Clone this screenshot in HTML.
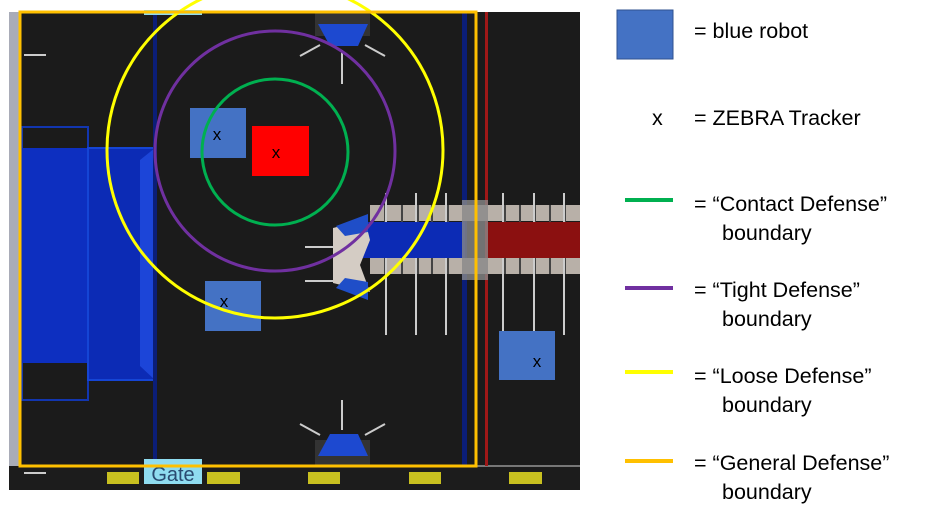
<!DOCTYPE html>
<html><head><meta charset="utf-8"><style>
html,body{margin:0;padding:0;background:#fff;width:929px;height:512px;overflow:hidden}
svg{display:block}
text{font-family:"Liberation Sans",sans-serif}
</style></head><body>
<svg width="929" height="512" viewBox="0 0 929 512">
<rect x="9" y="12" width="571" height="478" fill="#1b1b1b"/>
<rect x="9" y="12" width="12" height="478" fill="#a9acb8"/>
<rect x="9" y="466" width="571" height="24" fill="#1c1c1c"/>
<line x1="476" y1="466" x2="580" y2="466" stroke="#777" stroke-width="2"/>
<rect x="22" y="127" width="66" height="273" fill="none" stroke="#1236b0" stroke-width="2"/>
<rect x="22" y="148" width="66" height="215" fill="#0d2fc0"/>
<rect x="88" y="148" width="67" height="232" fill="#0c2bb5" stroke="#1545d5" stroke-width="2"/>
<polygon points="140,160 155,148 155,380 140,366" fill="#1c45d8"/>
<rect x="153" y="12" width="4" height="454" fill="#0b1e78"/>
<rect x="462" y="12" width="5" height="454" fill="#0b1e78"/>
<rect x="485" y="12" width="3" height="454" fill="#a01818"/>
<g fill="#b8b0a8">
<rect x="370" y="205" width="210" height="16"/>
<rect x="370" y="258" width="210" height="16"/>
</g>
<g stroke="#444" stroke-width="2">
<line x1="385" y1="205" x2="385" y2="274"/><line x1="402" y1="205" x2="402" y2="274"/><line x1="418" y1="205" x2="418" y2="274"/><line x1="432" y1="205" x2="432" y2="274"/><line x1="448" y1="205" x2="448" y2="274"/><line x1="505" y1="205" x2="505" y2="274"/><line x1="520" y1="205" x2="520" y2="274"/><line x1="535" y1="205" x2="535" y2="274"/><line x1="550" y1="205" x2="550" y2="274"/><line x1="565" y1="205" x2="565" y2="274"/>
</g>
<g stroke="#ccc" stroke-width="2">
<line x1="386" y1="193" x2="386" y2="335"/><line x1="416" y1="193" x2="416" y2="335"/><line x1="446" y1="193" x2="446" y2="335"/><line x1="503" y1="193" x2="503" y2="335"/><line x1="534" y1="193" x2="534" y2="335"/><line x1="564" y1="193" x2="564" y2="335"/>
<line x1="305" y1="247" x2="335" y2="247"/><line x1="305" y1="281" x2="335" y2="281"/>
<line x1="24" y1="55" x2="46" y2="55"/><line x1="24" y1="473" x2="46" y2="473"/>
</g>
<rect x="355" y="222" width="110" height="36" fill="#0c2bb5"/>
<rect x="488" y="222" width="92" height="36" fill="#8b1010"/>
<rect x="462" y="200" width="26" height="80" fill="#888" opacity="0.8"/>
<polygon points="333,228 365,220 370,240 360,265 370,292 333,283" fill="#d4ccc4"/>
<polygon points="336,226 368,214 368,232 345,236" fill="#1f4ec8"/>
<polygon points="336,288 368,300 368,282 345,278" fill="#1f4ec8"/>
<rect x="315" y="12" width="55" height="24" fill="#333"/>
<polygon points="318,24 368,24 358,46 330,46" fill="#1d49d0"/>
<rect x="315" y="440" width="55" height="26" fill="#333"/>
<polygon points="318,456 368,456 358,434 330,434" fill="#1d49d0"/>
<g stroke="#ccc" stroke-width="2">
<line x1="342" y1="50" x2="342" y2="84"/><line x1="300" y1="56" x2="320" y2="45"/><line x1="385" y1="56" x2="365" y2="45"/>
<line x1="342" y1="430" x2="342" y2="400"/><line x1="300" y1="424" x2="320" y2="435"/><line x1="385" y1="424" x2="365" y2="435"/>
</g>
<g fill="#c8c020">
<rect x="107" y="472" width="32" height="12"/><rect x="207" y="472" width="33" height="12"/><rect x="308" y="472" width="32" height="12"/><rect x="409" y="472" width="32" height="12"/><rect x="509" y="472" width="33" height="12"/>
</g>
<rect x="144" y="459" width="58" height="25" fill="#8fdcf0"/>
<text x="173" y="481" font-size="20" text-anchor="middle" fill="#2a4a70">Gate</text>
<rect x="144" y="10" width="58" height="5" fill="#8fdcf0"/>
<rect x="190" y="108" width="56" height="50" fill="#4472c4"/>
<rect x="205" y="281" width="56" height="50" fill="#4472c4"/>
<rect x="499" y="331" width="56" height="49" fill="#4472c4"/>
<rect x="252" y="126" width="57" height="50" fill="#ff0000"/>
<g font-size="17" fill="#000" text-anchor="middle">
<text x="217" y="140">x</text><text x="224" y="307">x</text><text x="537" y="367">x</text><text x="276" y="158">x</text>
</g>
<circle cx="275" cy="152" r="73" fill="none" stroke="#00b050" stroke-width="3"/>
<circle cx="275" cy="151" r="120" fill="none" stroke="#7030a0" stroke-width="3"/>
<circle cx="275" cy="150" r="168" fill="none" stroke="#ffff00" stroke-width="3"/>
<rect x="20" y="12" width="456" height="454" fill="none" stroke="#ffc000" stroke-width="3"/>
<rect x="617" y="10" width="56" height="49" fill="#4472c4" stroke="#2f528f" stroke-width="1"/>
<g font-size="21.5" fill="#000">
<text x="694" y="38">= blue robot</text>
<text x="652" y="125">x</text>
<text x="694" y="125">= ZEBRA Tracker</text>
<text x="694" y="211">= “Contact Defense”</text><text x="722" y="240">boundary</text>
<text x="694" y="297">= “Tight Defense”</text><text x="722" y="326">boundary</text>
<text x="694" y="383">= “Loose Defense”</text><text x="722" y="412">boundary</text>
<text x="694" y="470">= “General Defense”</text><text x="722" y="499">boundary</text>
</g>
<rect x="625" y="198" width="48" height="4" fill="#00b050"/>
<rect x="625" y="286" width="48" height="4" fill="#7030a0"/>
<rect x="625" y="370" width="48" height="4" fill="#ffff00"/>
<rect x="625" y="459" width="48" height="4" fill="#ffc000"/>
</svg>
</body></html>
